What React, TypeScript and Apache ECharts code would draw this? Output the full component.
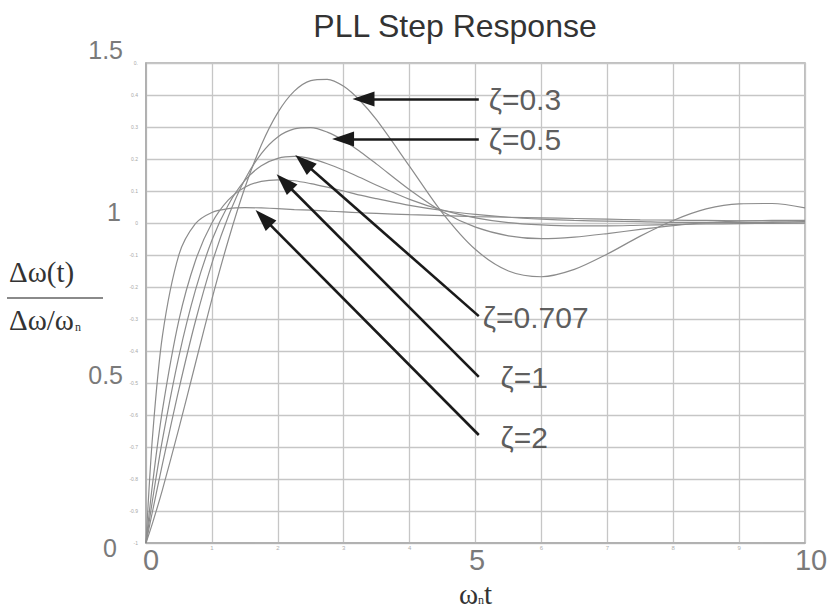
import React, { useEffect, useRef } from "react";
import * as echarts from "echarts";

// time axis samples (ω_n t)
const tValues = [0, 0.1, 0.25, 0.5, 0.75, 1, 1.25, 1.5, 1.75, 2, 2.25, 2.5, 2.75, 3, 3.25, 3.5, 4, 4.5, 5, 5.5, 6, 6.5, 7, 7.5, 8, 8.5, 9, 9.5, 10];

// responses
const zeta03 = [0, 0.063, 0.167, 0.359, 0.561, 0.762, 0.947, 1.11, 1.244, 1.345, 1.412, 1.445, 1.449, 1.427, 1.382, 1.322, 1.177, 1.031, 0.917, 0.85, 0.832, 0.855, 0.903, 0.959, 1.008, 1.044, 1.06, 1.061, 1.047];
const zeta05 = [0, 0.1, 0.247, 0.481, 0.693, 0.874, 1.021, 1.136, 1.217, 1.269, 1.294, 1.298, 1.284, 1.258, 1.223, 1.184, 1.104, 1.035, 0.987, 0.96, 0.951, 0.956, 0.967, 0.98, 0.992, 1.001, 1.006, 1.008, 1.008];
const zeta0707 = [0, 0.136, 0.323, 0.584, 0.79, 0.946, 1.057, 1.133, 1.179, 1.202, 1.208, 1.201, 1.185, 1.165, 1.142, 1.118, 1.074, 1.04, 1.016, 1.001, 0.994, 0.991, 0.991, 0.993, 0.995, 0.997, 0.998, 0.999, 1.0];
const zeta1 = [0, 0.186, 0.416, 0.697, 0.882, 1.0, 1.072, 1.112, 1.13, 1.135, 1.132, 1.123, 1.112, 1.1, 1.087, 1.076, 1.055, 1.039, 1.027, 1.018, 1.012, 1.008, 1.006, 1.004, 1.002, 1.002, 1.001, 1.001, 1.0];
const zeta2 = [0, 0.335, 0.648, 0.901, 0.998, 1.033, 1.045, 1.048, 1.047, 1.045, 1.042, 1.04, 1.037, 1.035, 1.032, 1.03, 1.026, 1.023, 1.02, 1.018, 1.016, 1.014, 1.012, 1.01, 1.009, 1.008, 1.007, 1.006, 1.005];

const seriesNames = ["ζ=0.3", "ζ=0.5", "ζ=0.707", "ζ=1", "ζ=2"];
const seriesValues = [zeta03, zeta05, zeta0707, zeta1, zeta2];

// annotation arrows (data coords): tail near label, tip at curve
const arrowTails = [[5.05, 1.3875], [5.05, 1.2625], [5.05, 0.709], [5.05, 0.519], [5.05, 0.3375]];
const arrowTips = [[3.3, 1.3875], [2.99, 1.2625], [2.39, 1.19], [2.1, 1.128], [1.78, 1.016]];
// label anchors (left-middle of label)
const labelAnchors = [[5.2, 1.3875], [5.2, 1.2625], [5.11, 0.706], [5.38, 0.516], [5.38, 0.331]];

// tick labels
const bigYLabels: Record<number, string> = { 0: "0", 5: "0.5", 10: "1", 15: "1.5" };
const smallYLabels = ["-1", "-0.9", "-0.8", "-0.7", "-0.6", "-0.5", "-0.4", "-0.3", "-0.2", "-0.1", "0", "0.1", "0.2", "0.3", "0.4", "0."];
const bigXLabels: Record<number, string> = { 0: "0", 5: "5", 10: "10" };
const smallXLabels = ["0", "1", "2", "3", "4", "5", "6", "7", "8", "9", "10"];

const SANS = "'Liberation Sans', Arial, sans-serif";
const SERIF = "'Liberation Serif', 'Times New Roman', serif";

export default function App() {
  const ref = useRef<HTMLDivElement>(null);
  useEffect(() => {
    if (!ref.current) return;
    const chart = echarts.init(ref.current, undefined, { renderer: "svg" });
    const curveSeries = seriesValues.map((vals, i) => ({
      name: seriesNames[i],
      type: "line",
      xAxisIndex: 0,
      yAxisIndex: 0,
      data: tValues.map((t, k) => [t, vals[k]]),
      showSymbol: false,
      smooth: 0.3,
      lineStyle: { color: "#8c8c8c", width: 1.2 },
      silent: true,
      z: 3,
    }));
    const option: any = {
      animation: false,
      backgroundColor: "#ffffff",
      title: {
        text: "PLL Step Response",
        left: 450,
        textAlign: "center",
        top: 5,
        textStyle: { fontFamily: SANS, fontSize: 32, fontWeight: "normal", color: "#333333" },
      },
      grid: { left: 146, right: 27, top: 63, bottom: 71, show: true, borderColor: "#ababab", borderWidth: 1.5, backgroundColor: "transparent" },
      xAxis: [
        {
          type: "value",
          min: 0,
          max: 10,
          interval: 1,
          axisLine: { show: true, lineStyle: { color: "#ababab", width: 1.5 } },
          axisTick: { show: false },
          splitLine: { show: true, lineStyle: { color: "#c6c6c6", width: 1.3 } },
          axisLabel: {
            margin: 2,
            showMinLabel: true,
            showMaxLabel: true,
            formatter: (v: number) => {
              const i = Math.round(v);
              if (bigXLabels[i] !== undefined) return `{b${i}|${bigXLabels[i]}}`;
              return `{s|${smallXLabels[i]}}`;
            },
            rich: {
              b0: { fontSize: 29, color: "#7a7a7a", fontFamily: SANS, padding: [0, 0, 0, 10] },
              b5: { fontSize: 29, color: "#7a7a7a", fontFamily: SANS, padding: [0, 0, 0, 3] },
              b10: { fontSize: 29, color: "#7a7a7a", fontFamily: SANS, padding: [0, 0, 0, 12] },
              s: { fontSize: 6, color: "#b0b0b0", fontFamily: SANS, padding: [0, 0, 14, 0] },
            },
          },
          name: "{a|ω}{s|n}{a|t}",
          nameLocation: "middle",
          nameGap: 36,
          nameTextStyle: {
            rich: {
              a: { fontSize: 29, color: "#333333", fontFamily: SERIF },
              s: { fontSize: 12, color: "#333333", fontFamily: SERIF, padding: [12, 0, 0, 0] },
            },
          },
        },
      ],
      yAxis: [
        {
          type: "value",
          min: 0,
          max: 1.5,
          interval: 0.1,
          axisLine: { show: true, lineStyle: { color: "#ababab", width: 1.5 } },
          axisTick: { show: false },
          splitLine: { show: true, lineStyle: { color: "#c6c6c6", width: 1.3 } },
          axisLabel: {
            margin: 23,
            showMinLabel: true,
            showMaxLabel: true,
            formatter: (v: number) => {
              const i = Math.round(v * 10);
              const lab = bigYLabels[i];
              if (lab === undefined) return "";
              return `{y${i}|${lab}}`;
            },
            rich: {
              y0: { fontSize: 25, color: "#7a7a7a", fontFamily: SANS, padding: [10, 6, 0, 0] },
              y5: { fontSize: 25, color: "#7a7a7a", fontFamily: SANS, padding: [0, 0, 16, 0] },
              y10: { fontSize: 25, color: "#7a7a7a", fontFamily: SANS, padding: [0, 2, 22, 0] },
              y15: { fontSize: 25, color: "#7a7a7a", fontFamily: SANS, padding: [0, 0, 26, 0] },
            },
          },
        },
        {
          type: "value",
          min: 0,
          max: 1.5,
          interval: 0.1,
          position: "left",
          axisLine: { show: false },
          axisTick: { show: false },
          splitLine: { show: false },
          axisLabel: {
            margin: 8,
            showMinLabel: true,
            showMaxLabel: true,
            fontSize: 5,
            color: "#a8a8a8",
            fontFamily: SANS,
            formatter: (v: number) => smallYLabels[Math.round(v * 10)] ?? "",
          },
        },
      ],
      series: [
        ...curveSeries,
        {
          name: "labels",
          type: "scatter",
          xAxisIndex: 0,
          yAxisIndex: 0,
          symbolSize: 0,
          silent: true,
          z: 5,
          data: labelAnchors.map((p, i) => ({ value: p, name: seriesNames[i] })),
          label: {
            show: true,
            position: "right",
            distance: 0,
            formatter: "{b}",
            fontSize: 30,
            color: "#333333",
            fontFamily: SANS,
          },
          markLine: {
            silent: true,
            symbol: ["none", "triangle"],
            symbolSize: [15, 22],
            label: { show: false },
            lineStyle: { color: "#1a1a1a", width: 2.6, type: "solid" },
            emphasis: { disabled: true },
            data: arrowTails.map((a, i) => [{ coord: a }, { coord: arrowTips[i] }]),
          },
        },
      ],
      graphic: [
        {
          type: "text",
          left: 9,
          top: 257,
          style: { text: "Δω(t)", font: `29px ${SERIF}`, fill: "#333333" },
        },
        {
          type: "line",
          shape: { x1: 7, y1: 298, x2: 103, y2: 298 },
          style: { stroke: "#8a8a8a", lineWidth: 2 },
        },
        {
          type: "text",
          left: 9,
          top: 305,
          style: {
            text: "{a|Δω/ω}{s|n}",
            rich: {
              a: { fontSize: 29, fill: "#333333", fontFamily: SERIF },
              s: { fontSize: 12, fill: "#333333", fontFamily: SERIF, padding: [14, 0, 0, 1] },
            },
          },
        },
      ],
    };
    chart.setOption(option);
    return () => chart.dispose();
  }, []);
  return <div ref={ref} style={{ position: "fixed", left: 0, top: 0, width: 832, height: 614 }} />;
}
